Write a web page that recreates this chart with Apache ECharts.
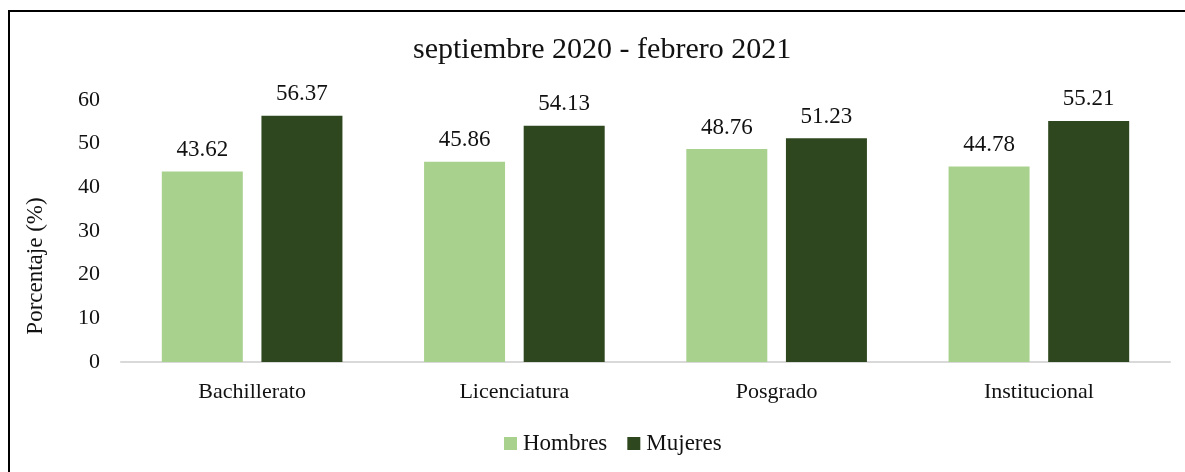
<!DOCTYPE html>
<html>
<head>
<meta charset="utf-8">
<script src="https://cdn.jsdelivr.net/npm/echarts@6/dist/echarts.min.js"></script>
<style>
  html, body { margin: 0; padding: 0; background: #fff; }
  #chart { width: 1185px; height: 472px; }
</style>
</head>
<body>
<div id="chart"></div>
<script>
  // datos
  const categories = ['Bachillerato', 'Licenciatura', 'Posgrado', 'Institucional'];
  const hombres = [43.62, 45.86, 48.76, 44.78];
  const mujeres = [56.37, 54.13, 51.23, 55.21];
  const yTicks = [0, 10, 20, 30, 40, 50, 60];

  const font = '"Liberation Serif", "DejaVu Serif", serif';
  const chart = echarts.init(document.getElementById('chart'));

  const barLabel = {
    show: true,
    position: 'top',
    distance: 10,
    fontFamily: font,
    fontSize: 23,
    color: '#111',
    formatter: p => p.value.toFixed(2),
  };

  chart.setOption({
    animation: false,
    textStyle: { fontFamily: font },
    graphic: [
      {
        type: 'rect',
        shape: { x: 9, y: 11, width: 1200, height: 500 },
        style: { fill: 'none', stroke: '#000', lineWidth: 2 },
        silent: true,
      },
      {
        type: 'text',
        x: 36,
        y: 266,
        rotation: Math.PI / 2,
        style: {
          text: 'Porcentaje (%)',
          font: '23px ' + font,
          fill: '#111',
          align: 'center',
          verticalAlign: 'middle',
        },
        silent: true,
      },
    ],
    title: {
      text: 'septiembre 2020 - febrero 2021',
      left: 408,
      top: 30,
      textStyle: { fontFamily: font, fontSize: 30, fontWeight: 'normal', color: '#111' },
    },
    legend: {
      data: ['Hombres', 'Mujeres'],
      bottom: 12,
      left: 499,
      icon: 'rect',
      itemWidth: 13,
      itemHeight: 13,
      itemGap: 20,
      textStyle: { fontFamily: font, fontSize: 23, color: '#111', padding: [0, 0, 0, 1] },
    },
    grid: {
      left: 121,
      right: 15,
      top: 100,
      bottom: 110,
      containLabel: false,
    },
    xAxis: {
      type: 'category',
      data: categories,
      axisLine: { lineStyle: { color: '#d9d9d9', width: 2 } },
      axisTick: { show: false },
      axisLabel: { fontFamily: font, fontSize: 22, color: '#111', margin: 19 },
    },
    yAxis: {
      type: 'value',
      min: yTicks[0],
      max: yTicks[yTicks.length - 1],
      interval: 10,
      axisLine: { show: false },
      axisTick: { show: false },
      splitLine: { show: false },
      axisLabel: { fontFamily: font, fontSize: 22, color: '#111', margin: 21 },
    },
    series: [
      {
        name: 'Hombres',
        type: 'bar',
        data: hombres,
        barWidth: 81,
        barGap: '23%',
        itemStyle: { color: '#a9d18e' },
        label: barLabel,
      },
      {
        name: 'Mujeres',
        type: 'bar',
        data: mujeres,
        barWidth: 81,
        itemStyle: { color: '#2e471e' },
        label: barLabel,
      },
    ],
  });
</script>
</body>
</html>
